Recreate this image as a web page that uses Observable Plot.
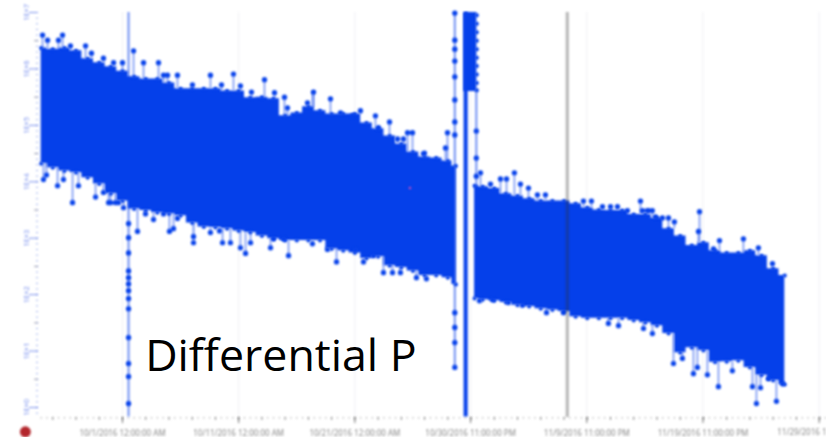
<!DOCTYPE html>
<html><head><meta charset="utf-8">
<script src="https://cdn.jsdelivr.net/npm/d3@7"></script>
<script src="https://cdn.jsdelivr.net/npm/@observablehq/plot@0.6"></script>
<style>
html,body{margin:0;padding:0;background:#fff;overflow:hidden}
svg{display:block}
svg g[aria-label]{filter:blur(.8px)}
</style></head><body><div id="c"></div>
<script>
// days since 10/1/2016 ; values are log10 of differential pressure
const firstDays=[-7,-6,-5,-4,-3,-2,-1,0,1,2,3,4,5,6,7,8,9,10,11,12,13,14,15,16,17,18,19,20,21,22,23,24,25,26,27,28,28.7];
const firstUpper=[6.37,6.35,6.37,6.32,6.18,6.11,6.04,5.96,5.86,5.82,5.82,5.75,5.65,5.65,5.65,5.65,5.61,5.61,5.49,5.50,5.47,5.17,5.22,5.33,5.26,5.20,5.20,5.20,5.04,4.94,4.81,4.67,4.53,4.44,4.42,4.37,4.28];
const firstLower=[4.32,4.25,4.19,4.16,4.07,3.96,3.79,3.66,3.52,3.49,3.45,3.43,3.40,3.27,3.20,3.19,3.17,3.13,3.10,3.04,2.99,2.96,2.96,2.96,2.96,2.81,2.78,2.74,2.64,2.67,2.51,2.48,2.42,2.34,2.34,2.30,2.18];
const secondDays=[30.3,31,32,33,34,35,36,37,38,39,40,41,42,43,44,45,46,47,48,49,50,51,52,53,54,55,56,57];
const secondUpper=[3.93,3.91,3.88,3.79,3.75,3.70,3.66,3.66,3.66,3.61,3.54,3.50,3.49,3.49,3.42,3.42,3.36,3.17,3.04,2.87,2.92,2.78,2.74,2.74,2.78,2.69,2.46,2.34];
const secondLower=[1.93,1.91,1.89,1.86,1.81,1.79,1.75,1.73,1.70,1.61,1.58,1.58,1.58,1.58,1.54,1.50,1.45,1.31,.97,1.06,1.01,.80,.81,.83,.71,.57,.48,.41];
const highDays=[-6.88,-6.45,-5.51,-5.16,-4.48,-3.18,-2.67,-1.64,-.77,0,.95,1.81,3.10,3.53,3.87,4.73,6.02,7.57,8.52,9.55,10.15,11.10,12.22,13.08,13.94,14.2,15.92,16.44,17.90,18.76,19.79,20.48,21.77,22.03,22.98,23.67,24.18,24.53,24.96,25.90,25.99,27.80,27.97,30.81,31.67,32.53,33.05,33.73,34.25,34.94,35.71,36.4,39.67,40.36,41.31,42,42.6,43.46,44.58,44.75,45.18,45.27,45.6,45.87,46.47,46.99,47.5,49.57,49.66,50.86,51.38,53.44,54.73,55.94];
const highVals=[6.60,6.51,6.51,6.60,6.41,6.41,6.28,6.19,6.11,6.11,6.32,6.11,6.11,5.89,5.89,5.89,5.72,5.89,5.72,5.91,5.70,5.59,5.81,5.58,5.50,5.31,5.40,5.59,5.47,5.22,5.17,5.26,5.17,4.96,5.06,4.76,4.76,4.87,4.87,4.50,4.51,4.60,4.87,4.16,3.96,4.05,4.05,4.16,3.96,3.89,3.77,3.77,3.66,3.66,3.56,3.56,3.56,3.49,3.66,3.49,3.49,3.49,3.49,3.38,3.36,3.36,3.29,3.12,3.47,2.81,2.96,2.99,2.83,2.55];
const lowDays=[-6.80,-6.54,-5.59,-5.08,-4.30,-3.79,-2.32,-1.64,-1.20,-1.03,-.60,-.34,.09,1.29,1.98,2.67,3.53,4.04,4.39,4.73,6.11,6.11,7.57,8.35,8.61,9.29,10.15,10.59,11.02,12.74,13.0,13.86,14.29,16.35,17.64,18.42,20.05,20.74,21.6,22.46,23.24,23.92,25.30,26.16,30.72,31.84,33.22,34.42,36.49,37.95,41.82,42.69,44.84,45.61,47.42,48.19,49.14,49.48,50.34,51.29,52.49,54.22,54.56,54.91,55.59,56.28,56.80];
const lowVals=[4.04,4.12,3.93,4.04,3.63,3.93,3.73,3.81,3.63,3.63,3.63,3.63,3.54,3.12,3.43,3.33,3.43,3.12,3.17,3.35,2.92,3.03,3.10,3.13,2.92,2.92,2.83,2.73,2.92,2.83,2.99,2.99,2.69,2.90,2.80,2.58,2.80,2.58,2.69,2.39,2.39,2.39,2.30,2.28,1.89,1.91,1.86,1.81,1.68,1.68,1.49,1.45,1.40,1.31,.78,.87,.60,.71,.58,.37,.65,.37,.07,.35,.51,.11,.42];
// isolated excursions
const spikeDays=[.52,16.38,28.6,30.45];
const spikeTop=[7,5.6,7,5.6];
const spikeBottom=[-.17,5.3,.71,3.9];
const spikeDotDays=[.52,.52,.52,.52,.52,.52,.52,.52,.52,.52,.52,.52,.52,28.6,28.6,28.6,28.6,28.6,28.6,28.6,28.6,28.6,28.6,28.6,28.6,30.45,30.45,30.45];
const spikeDotVals=[3.26,3.01,2.74,2.42,2.30,2.19,2.07,1.93,1.75,1.24,.78,.55,.07,6.99,6.51,6.35,6.14,5.86,5.45,5.06,4.83,1.68,1.42,1.15,.71,4.90,4.42,4.10];
const burstDays=[29.4,30.5];
const burstTop=[7,7];
const burstBottom=[5.6,5.6];
const columnDays=[29.4,29.75];
const columnTop=[7,7];
const columnBottom=[-.17,-.17];
const burstEdgeVals=[6.95,6.8,6.65,6.5,6.35,6.2,6.05,5.9,5.75,5.62];
const markerDay=[38.28];
const pinkDay=[24.74], pinkVal=[3.89];
const tickDays=[0,10,20,29.96,39.96,49.96];
const tickLabels=["10/1/2016 12:00:00 AM","10/11/2016 12:00:00 AM","10/21/2016 12:00:00 AM","10/30/2016 11:00:00 PM","11/9/2016 11:00:00 PM","11/19/2016 11:00:00 PM"];
const lastTickDay=59.96;
const lastTickLabel="11/29/2016 1";
const decades=[0,1,2,3,4,5,6,7];
const decadeLabels=["1E+0","1E+1","1E+2","1E+3","1E+4","1E+5","1E+6","1E+7"];
const halfDecades=[.5,1.5,2.5,3.5,4.5,5.5,6.5];

const t0=Date.UTC(2016,9,1);
const T=d=>new Date(t0+d*864e5);
const band=(ds,us,ls)=>ds.map((d,i)=>({t:T(d),u:us[i],l:ls[i]}));
const first=band(firstDays,firstUpper,firstLower), second=band(secondDays,secondUpper,secondLower);
const all=first.concat(second);
const baseOf=(d,key)=>{const t=T(d);return d3.least(all,a=>Math.abs(a.t-t))[key]};
const high=highDays.map((d,i)=>({t:T(d),v:highVals[i],b:baseOf(d,"u")}));
const low=lowDays.map((d,i)=>({t:T(d),v:lowVals[i],b:baseOf(d,"l")}));
const edge=all.flatMap(a=>[{t:a.t,v:a.u},{t:a.t,v:a.l}]);
const BLUE="#0540ea", STEM="#6f8ff2";
const noBlur=(i,s,v,d,c,next)=>{const g=next(i,s,v,d,c);g.style.filter="none";return g};
const smallTick=(days,lo,hi,stroke)=>Plot.ruleX(days.map(T),{y1:lo,y2:hi,stroke,strokeWidth:1});

const plot=Plot.plot({
  width:826,height:437,marginLeft:38,marginRight:0,marginTop:12,marginBottom:20,
  style:{background:"#fff",overflow:"visible"},
  x:{type:"utc",domain:[T(-7.23),T(60.59)],label:null},
  y:{domain:[-.177,7],label:null},
  marks:[
    Plot.ruleX(tickDays.concat(lastTickDay).map(T),{stroke:"#f0f0f4",strokeWidth:1}),
    Plot.axisY({ticks:d3.range(-.1,7,.1),tickSize:2,fill:"none",stroke:"#9fb0ee",label:null}),
    Plot.axisY({ticks:halfDecades,tickSize:4,fill:"none",stroke:"#a9a9b4",label:null}),
    Plot.axisY({ticks:decades,tickSize:9,tickPadding:1,tickFormat:(d,i)=>decadeLabels[i],fontSize:7.5,tickRotate:-90,color:"#7d93ee",stroke:"#7d93ee",label:null}),
    smallTick(d3.range(-7,61,.5),-.177,-.205,"#aaa"),
    smallTick(d3.range(-6,61,2),-.177,-.23,"#999"),
    smallTick(tickDays.concat(lastTickDay),-.177,-.285,"#777"),
    Plot.axisX({ticks:tickDays.map(T),tickSize:0,tickPadding:13,tickFormat:(d,i)=>tickLabels[i],fontSize:8,color:"#888",label:null}),
    Plot.text([lastTickLabel],{x:()=>T(60.59),y:()=>-.44,textAnchor:"end",fontSize:8,fill:"#888"}),
    Plot.ruleX(spikeDays.map((d,i)=>({t:T(d),a:spikeTop[i],b:spikeBottom[i]})),{x:"t",y1:"a",y2:"b",stroke:STEM,strokeWidth:2}),
    Plot.areaY(first,{x:"t",y1:"l",y2:"u",fill:BLUE,curve:"step"}),
    Plot.areaY(second,{x:"t",y1:"l",y2:"u",fill:BLUE,curve:"step"}),
    Plot.areaY(band(burstDays,burstTop,burstBottom),{x:"t",y1:"l",y2:"u",fill:BLUE}),
    Plot.areaY(band(columnDays,columnTop,columnBottom),{x:"t",y1:"l",y2:"u",fill:BLUE}),
    Plot.ruleX(high,{x:"t",y1:"b",y2:"v",stroke:STEM,strokeWidth:1.5}),
    Plot.ruleX(low,{x:"t",y1:"b",y2:"v",stroke:STEM,strokeWidth:1.5}),
    Plot.dot(edge,{x:"t",y:"v",r:2,fill:BLUE}),
    Plot.dot(high,{x:"t",y:"v",r:2.6,fill:BLUE}),
    Plot.dot(low,{x:"t",y:"v",r:2.6,fill:BLUE}),
    Plot.dot(spikeDotDays.map((d,i)=>({t:T(d),v:spikeDotVals[i]})),{x:"t",y:"v",r:2.6,fill:BLUE}),
    Plot.dot(burstEdgeVals.map(v=>({t:T(30.5),v})),{x:"t",y:"v",r:2,fill:BLUE}),
    Plot.ruleX(markerDay.map(T),{stroke:"#333",strokeOpacity:.36,strokeWidth:3}),
    Plot.dot(pinkDay.map((d,i)=>({t:T(d),v:pinkVal[i]})),{x:"t",y:"v",r:1.2,fill:"#d34fc0"}),
    Plot.dot([{t:T(-8.36),v:-.43}],{x:"t",y:"v",r:5.5,fill:"#b3262c"}),
    Plot.text(["Differential P"],{x:()=>T(1.95),y:()=>.9,textAnchor:"start",fontSize:44.7,fontFamily:"'Open Sans',sans-serif",fill:"#000",render:noBlur})
  ]
});
document.getElementById("c").append(plot);
</script></body></html>
